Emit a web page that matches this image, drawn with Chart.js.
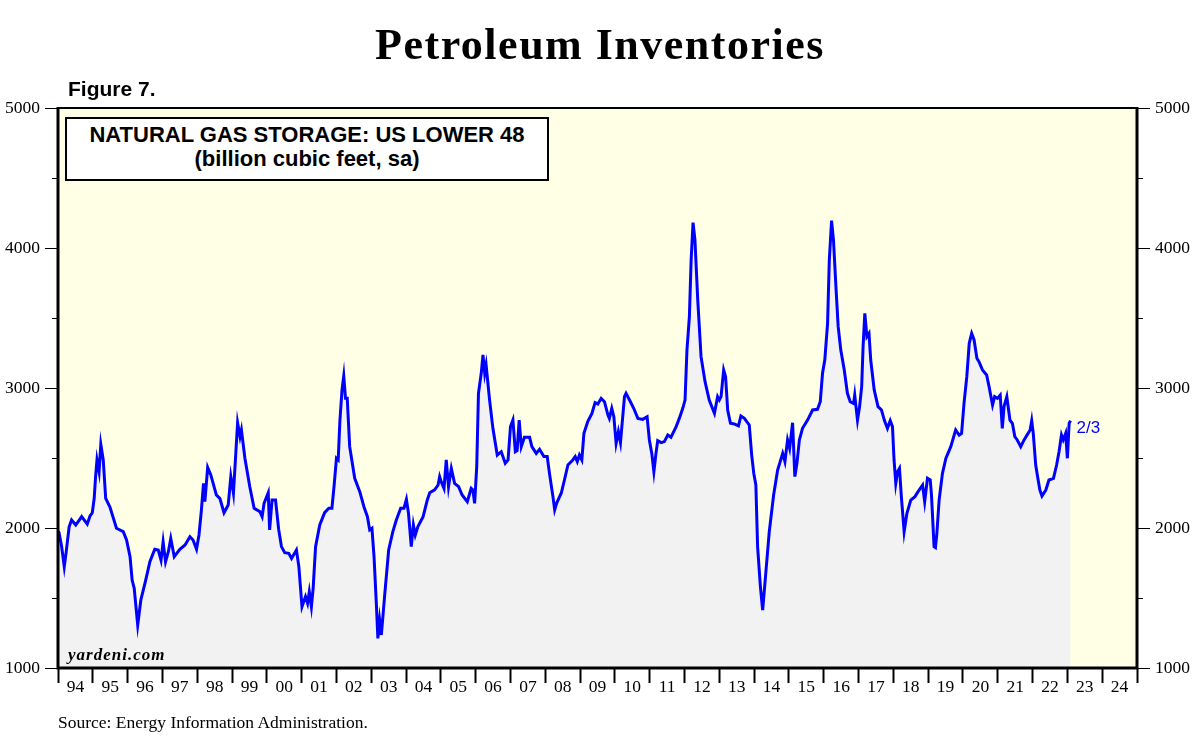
<!DOCTYPE html>
<html>
<head>
<meta charset="utf-8">
<script src="https://cdn.jsdelivr.net/npm/chart.js@4.4.1/dist/chart.umd.min.js"></script>
<style>
  body { margin: 0; background: #fff; }
  #wrap { position: relative; width: 1200px; height: 747px; }
  #wrap canvas { position: absolute; left: 0; top: 0; }
  .txt { position: absolute; line-height: 1; white-space: nowrap; color: #000; }
  .serif { font-family: "Liberation Serif", "Times New Roman", serif; }
  .sans { font-family: "Liberation Sans", Arial, sans-serif; }
  #title { left: 0; width: 1200px; top: 23px; text-align: center; font-size: 44px; font-weight: bold; letter-spacing: 1.5px; }
  #fig { left: 68px; top: 78px; font-size: 21px; font-weight: bold; }
  #box { position: absolute; left: 65px; top: 117px; width: 484px; height: 64px; box-sizing: border-box; border: 2px solid #000; background: #fff; }
  .boxline { left: 65px; width: 484px; text-align: center; font-size: 22px; font-weight: bold; }
  #yard { left: 68px; top: 646px; font-size: 17px; font-weight: bold; font-style: italic; letter-spacing: 1px; }
  #source { left: 58px; top: 714px; font-size: 17.5px; }
</style>
</head>
<body>
<div id="wrap">
  <canvas id="gasChart" width="1200" height="747"></canvas>
  <div id="title" class="txt serif">Petroleum Inventories</div>
  <div id="fig" class="txt sans">Figure 7.</div>
  <div id="box"></div>
  <div class="txt sans boxline" style="top:124px">NATURAL GAS STORAGE: US LOWER 48</div>
  <div class="txt sans boxline" style="top:148px">(billion cubic feet, sa)</div>
  <div id="yard" class="txt serif">yardeni.com</div>
  <div id="source" class="txt serif">Source: Energy Information Administration.</div>
</div>
<script>
// --- Data ---
const dates = [
  1994.00, 1994.03, 1994.105, 1994.18, 1994.23, 1994.32, 1994.39, 1994.51, 1994.68, 1994.84, 1994.92, 1994.985,
  1995.04, 1995.08, 1995.12, 1995.18, 1995.23, 1995.30, 1995.37, 1995.49, 1995.68, 1995.875, 1995.97,
  1996.07, 1996.13, 1996.19, 1996.29, 1996.38, 1996.52, 1996.64, 1996.78, 1996.88, 1996.96,
  1997.02, 1997.09, 1997.17, 1997.24, 1997.34, 1997.50, 1997.65, 1997.79, 1997.88, 1997.98,
  1998.05, 1998.12, 1998.18, 1998.22, 1998.30, 1998.39, 1998.55, 1998.65, 1998.77, 1998.89, 1998.965,
  1999.04, 1999.16, 1999.23, 1999.27, 1999.37, 1999.51, 1999.635, 1999.80, 1999.865, 1999.92,
  2000.04, 2000.08, 2000.15, 2000.25, 2000.34, 2000.42, 2000.515, 2000.63, 2000.71, 2000.85, 2000.92,
  2001.01, 2001.11, 2001.17, 2001.22, 2001.28, 2001.33, 2001.40, 2001.52, 2001.66, 2001.78, 2001.87, 2001.93,
  2002.00, 2002.05, 2002.10, 2002.16, 2002.21, 2002.26, 2002.31, 2002.38, 2002.525, 2002.67, 2002.79, 2002.89, 2002.955,
  2003.02, 2003.08, 2003.15, 2003.19, 2003.24, 2003.29, 2003.39, 2003.50, 2003.62, 2003.72, 2003.845, 2003.94,
  2004.01, 2004.07, 2004.15, 2004.21, 2004.265, 2004.34, 2004.49, 2004.61, 2004.68, 2004.82, 2004.92, 2004.965,
  2005.01, 2005.09, 2005.155, 2005.22, 2005.30, 2005.395, 2005.51, 2005.61, 2005.76, 2005.87, 2005.92, 2005.97,
  2006.03, 2006.08, 2006.16, 2006.21, 2006.26, 2006.30, 2006.40, 2006.495, 2006.62, 2006.735, 2006.85, 2006.93,
  2007.00, 2007.07, 2007.14, 2007.19, 2007.25, 2007.31, 2007.40, 2007.55, 2007.615, 2007.74, 2007.835, 2007.96,
  2008.055, 2008.12, 2008.22, 2008.27, 2008.33, 2008.46, 2008.55, 2008.65, 2008.79, 2008.86, 2008.92, 2008.98,
  2009.05, 2009.11, 2009.22, 2009.34, 2009.43, 2009.51, 2009.605, 2009.70, 2009.80, 2009.84, 2009.91, 2009.97,
  2010.035, 2010.10, 2010.16, 2010.275, 2010.32, 2010.42, 2010.54, 2010.66, 2010.80, 2010.925, 2010.99,
  2011.06, 2011.12, 2011.18, 2011.23, 2011.33, 2011.42, 2011.52, 2011.61, 2011.76, 2011.85, 2011.95,
  2012.015, 2012.07, 2012.14, 2012.19, 2012.245, 2012.30, 2012.38, 2012.475, 2012.59, 2012.71, 2012.86, 2012.95,
  2013.00, 2013.05, 2013.125, 2013.18, 2013.24, 2013.32, 2013.43, 2013.55, 2013.62, 2013.72, 2013.86, 2013.93, 2013.99,
  2014.05, 2014.10, 2014.18, 2014.245, 2014.31, 2014.435, 2014.56, 2014.675, 2014.82, 2014.885, 2014.96,
  2015.02, 2015.105, 2015.17, 2015.23, 2015.30, 2015.39, 2015.535, 2015.68, 2015.82, 2015.90, 2015.965,
  2016.03, 2016.11, 2016.16, 2016.225, 2016.28, 2016.35, 2016.415, 2016.49, 2016.59, 2016.68, 2016.76, 2016.857, 2016.89, 2016.97,
  2017.03, 2017.09, 2017.13, 2017.18, 2017.24, 2017.30, 2017.35, 2017.45, 2017.56, 2017.66, 2017.74, 2017.83, 2017.91, 2017.975,
  2018.02, 2018.07, 2018.12, 2018.176, 2018.23, 2018.31, 2018.39, 2018.50, 2018.62, 2018.71, 2018.84, 2018.90, 2018.98,
  2019.06, 2019.095, 2019.17, 2019.21, 2019.25, 2019.315, 2019.41, 2019.51, 2019.65, 2019.79, 2019.89, 2019.96,
  2020.03, 2020.11, 2020.18, 2020.25, 2020.32, 2020.40, 2020.46, 2020.56, 2020.68, 2020.75, 2020.85, 2020.91, 2020.99,
  2021.07, 2021.13, 2021.18, 2021.26, 2021.35, 2021.42, 2021.49, 2021.56, 2021.66, 2021.755, 2021.87, 2021.93, 2021.975,
  2022.02, 2022.09, 2022.16, 2022.21, 2022.27, 2022.38, 2022.47, 2022.60, 2022.69, 2022.76, 2022.83, 2022.88, 2022.95,
  2023.00, 2023.05, 2023.09
];
const storage = [
  1975, 1966, 1866, 1724, 1819, 2009, 2057, 2021, 2081, 2028, 2086, 2109,
  2212, 2367, 2486, 2402, 2598, 2486, 2212, 2152, 1998, 1974, 1914,
  1795, 1628, 1569, 1307, 1486, 1628, 1759, 1848, 1843, 1771,
  1902, 1759, 1831, 1926, 1795, 1848, 1879, 1938, 1914, 1848,
  1950, 2128, 2319, 2188, 2433, 2379, 2236, 2212, 2109, 2164, 2367,
  2248, 2752, 2652, 2700, 2498, 2295, 2140, 2117, 2081, 2176,
  2252, 1986, 2200, 2200, 1990, 1867, 1824, 1819, 1783, 1843, 1724,
  1438, 1510, 1462, 1545, 1438, 1569, 1867, 2022, 2110, 2141, 2141, 2295,
  2498, 2486, 2771, 2986, 3086, 2926, 2926, 2581, 2355, 2260, 2152, 2081, 1986,
  1998, 1795, 1438, 1212, 1343, 1236, 1533, 1843, 1974, 2057, 2141, 2141,
  2205, 2105, 1867, 2022, 1950, 2010, 2081, 2200, 2252, 2272, 2307, 2367,
  2331, 2283, 2486, 2295, 2426, 2319, 2295, 2236, 2188, 2283, 2271, 2176,
  2438, 2962, 3105, 3236, 3105, 3164, 2914, 2712, 2521, 2545, 2462, 2486,
  2724, 2771, 2545, 2553, 2771, 2581, 2648, 2648, 2581, 2533, 2562, 2510,
  2510, 2390, 2224, 2130, 2180, 2250, 2343, 2450, 2486, 2510, 2474, 2521,
  2486, 2676, 2760, 2819, 2895, 2886, 2926, 2902, 2807, 2783, 2855, 2795,
  2605, 2688, 2610, 2938, 2962, 2914, 2855, 2783, 2776, 2795, 2629,
  2533, 2402, 2533, 2624, 2610, 2617, 2664, 2648, 2724, 2783, 2855,
  2914, 3271, 3510, 3914, 4181, 4057, 3629, 3224, 3045, 2914, 2819, 2938,
  2914, 2938, 3129, 3081, 2843, 2748, 2743, 2729, 2800, 2783, 2736, 2521, 2390,
  2307, 1867, 1581, 1414, 1605, 1974, 2236, 2414, 2533, 2474, 2629,
  2569, 2752, 2367, 2462, 2629, 2712, 2771, 2843, 2848, 2902, 3105,
  3200, 3462, 3914, 4195, 4057, 3724, 3438, 3271, 3129, 2962, 2902, 2890, 2950, 2771,
  2867, 3010, 3295, 3533, 3367, 3390, 3200, 2986, 2867, 2843, 2771, 2712, 2767, 2724,
  2486, 2319, 2402, 2426, 2224, 1974, 2105, 2200, 2224, 2260, 2307, 2188, 2355,
  2343, 2236, 1867, 1860, 1962, 2200, 2390, 2498, 2581, 2700, 2664, 2676,
  2890, 3081, 3319, 3390, 3343, 3212, 3188, 3129, 3093, 3010, 2879, 2938, 2926,
  2950, 2712, 2867, 2938, 2771, 2748, 2652, 2629, 2581, 2629, 2676, 2700, 2767,
  2676, 2450, 2343, 2271, 2228, 2271, 2343, 2355, 2450, 2545, 2664, 2629, 2676,
  2498, 2748, 2767
];
const yearLabels = ['94','95','96','97','98','99','00','01','02','03','04','05','06','07','08','09',
  '10','11','12','13','14','15','16','17','18','19','20','21','22','23','24'];
const yTicks = [1000, 2000, 3000, 4000, 5000];
const minorTicks = [1500, 2500, 3500, 4500];
const lastLabel = '2/3';

const SERIF = '"Liberation Serif", "Times New Roman", serif';
const SANS = '"Liberation Sans", Arial, sans-serif';

// background, frame, minor ticks and end label
const framePlugin = {
  id: 'frame',
  beforeDraw(chart) {
    const { ctx, chartArea: a } = chart;
    ctx.save();
    ctx.fillStyle = '#ffffff';
    ctx.fillRect(0, 0, chart.width, chart.height);
    ctx.fillStyle = '#ffffe6';
    ctx.fillRect(a.left, a.top, a.right - a.left, a.bottom - a.top);
    ctx.restore();
  },
  afterDatasetsDraw(chart) {
    const { ctx, chartArea: a } = chart;
    const ys = chart.scales.y;
    ctx.save();
    ctx.strokeStyle = '#000';
    ctx.lineWidth = 1;
    minorTicks.forEach(v => {
      const py = Math.round(ys.getPixelForValue(v)) + 0.5;
      ctx.beginPath();
      ctx.moveTo(a.left - 6, py); ctx.lineTo(a.left, py);
      ctx.moveTo(a.right, py); ctx.lineTo(a.right + 6, py);
      ctx.stroke();
    });
    ctx.lineWidth = 3;
    ctx.beginPath();
    ctx.moveTo(a.left, a.top); ctx.lineTo(a.left, a.bottom);
    ctx.moveTo(a.left - 1.5, a.bottom); ctx.lineTo(a.right + 1.5, a.bottom);
    ctx.moveTo(a.right, a.bottom); ctx.lineTo(a.right, a.top);
    ctx.stroke();
    ctx.lineWidth = 2;
    ctx.beginPath();
    ctx.moveTo(a.left - 1.5, a.top); ctx.lineTo(a.right + 1.5, a.top);
    ctx.stroke();

    // last value label
    const meta = chart.getDatasetMeta(0);
    const last = meta.data[meta.data.length - 1];
    ctx.fillStyle = '#0000ff';
    ctx.font = '17px ' + SANS;
    ctx.textBaseline = 'middle';
    ctx.textAlign = 'left';
    ctx.fillText(lastLabel, last.x + 6, last.y + 8);
    ctx.restore();
  }
};

const yAxis = (pos, w) => ({
  type: 'linear',
  position: pos,
  min: yTicks[0],
  max: yTicks[yTicks.length - 1],
  afterBuildTicks: s => { s.ticks = yTicks.map(v => ({ value: v })); },
  afterFit: s => { s.width = w; },
  border: { display: false },
  grid: { drawOnChartArea: false, drawTicks: true, tickLength: 13, tickWidth: 1, tickColor: '#000' },
  ticks: {
    color: '#000',
    padding: 5,
    font: { family: SERIF, size: 17.5 },
    callback: v => String(v)
  }
});

const ctx = document.getElementById('gasChart').getContext('2d');
const gasChart = new Chart(ctx, {
  type: 'line',
  data: {
    datasets: [{
      label: 'Natural gas storage',
      data: dates.map((d, i) => ({ x: d, y: storage[i] })),
      borderColor: '#0000ff',
      borderWidth: 3,
      backgroundColor: '#f2f2f2',
      fill: 'start',
      pointRadius: 0,
      tension: 0
    }]
  },
  options: {
    responsive: false,
    animation: false,
    layout: { padding: { top: 108, bottom: 39, left: 0, right: 0 } },
    plugins: { legend: { display: false }, tooltip: { enabled: false } },
    scales: {
      x: {
        type: 'linear',
        min: 1994,
        max: 2025,
        afterFit: s => { s.height = 40; },
        border: { display: false },
        grid: { drawOnChartArea: false, drawTicks: true, tickLength: 15, tickWidth: 2, tickColor: '#000' },
        ticks: {
          stepSize: 1,
          autoSkip: false,
          maxRotation: 0,
          labelOffset: 17.42,
          padding: -6,
          color: '#000',
          font: { family: SERIF, size: 17.5 },
          callback: v => yearLabels[v - 1994] ?? ''
        }
      },
      y: yAxis('left', 58),
      y2: yAxis('right', 63)
    }
  },
  plugins: [framePlugin]
});
</script>
</body>
</html>
